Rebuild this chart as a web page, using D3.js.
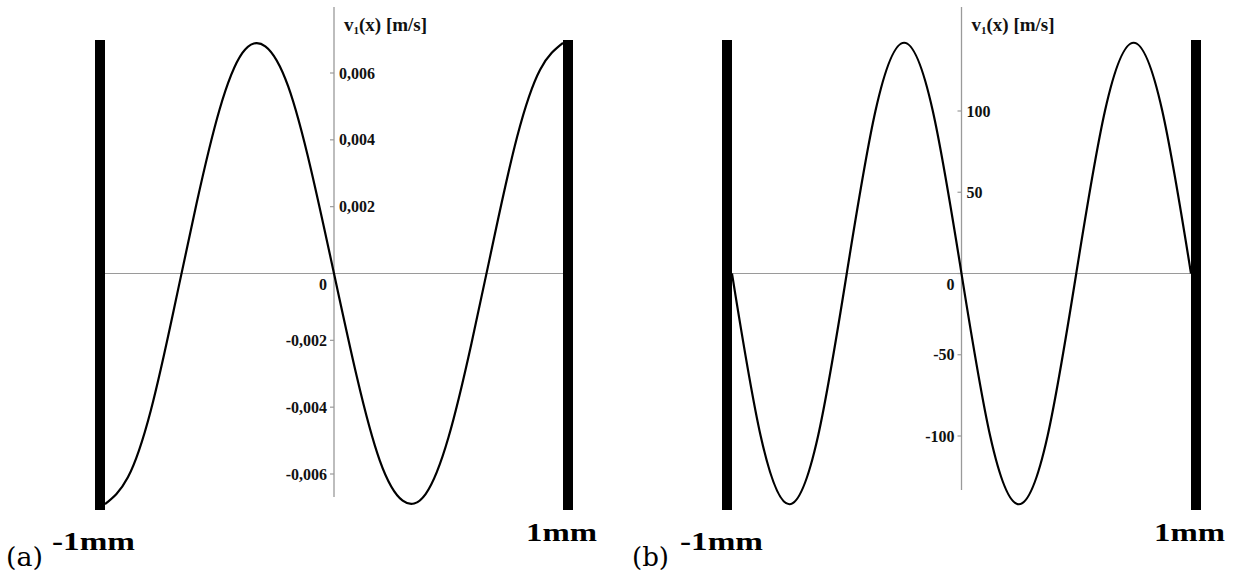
<!DOCTYPE html>
<html>
<head>
<meta charset="utf-8">
<script src="https://cdn.jsdelivr.net/npm/d3@7/dist/d3.min.js"></script>
<style>
  html, body { margin: 0; padding: 0; background: #fff; }
  svg { display: block; }
</style>
</head>
<body>
<svg id="chart" width="1256" height="580"></svg>
<script>
// Velocity profile v1(x) across the gap between the two walls (x in mm)

// Panel (a): low-frequency mode
const xA = [-1, -0.9, -0.8, -0.7, -0.6, -0.5, -0.4, -0.3, -0.2, -0.1, 0,
            0.1, 0.2, 0.3, 0.4, 0.5, 0.6, 0.7, 0.8, 0.9, 1];
const vA = [-0.0069, -0.0061, -0.0041, -0.0011, 0.0021, 0.0049, 0.0066, 0.0068, 0.0056, 0.0031, 0,
            -0.0031, -0.0056, -0.0068, -0.0066, -0.0049, -0.0021, 0.0011, 0.0041, 0.0061, 0.0069];
const ticksA = [-0.006, -0.004, -0.002, 0, 0.002, 0.004, 0.006];

// Panel (b): higher mode
const xB = [-1, -0.875, -0.75, -0.625, -0.5, -0.375, -0.25, -0.125, 0,
            0.125, 0.25, 0.375, 0.5, 0.625, 0.75, 0.875, 1];
const vB = [0, -100, -142, -100, 0, 100, 142, 100, 0,
            -100, -142, -100, 0, 100, 142, 100, 0];
const ticksB = [-100, -50, 0, 50, 100];

const wallLabels = ["-1mm", "1mm"];
const axisTitle = { main: "v", sub: "1", rest: "(x) [m/s]" };

const comma = d3.formatLocale({ decimal: ",", thousands: ".", grouping: [3], currency: ["", ""], minus: "-" });

const svg = d3.select("#chart");
const serif = "'Liberation Serif', 'Times New Roman', serif";

const panels = [
  { tag: "(a)", tagX: 6, xs: xA, vs: vA, ticks: ticksA,
    xRange: [105, 563], yDomain: [-0.006, 0.006], yRange: [474, 73],
    fmt: comma.format(".3f"), axisBottom: 497,
    wallText: [{ x: 52, y: 550, w: 83 }, { x: 526, y: 541, w: 71 }] },
  { tag: "(b)", tagX: 632, xs: xB, vs: vB, ticks: ticksB,
    xRange: [732, 1191], yDomain: [-100, 100], yRange: [436, 111],
    fmt: comma.format("d"), axisBottom: 490,
    wallText: [{ x: 680, y: 550, w: 83 }, { x: 1154, y: 541, w: 71 }] }
];

panels.forEach(p => {
  const x = d3.scaleLinear().domain([-1, 1]).range(p.xRange);
  const y = d3.scaleLinear().domain(p.yDomain).range(p.yRange);
  const g = svg.append("g");
  const ax = x(0);
  const wallW = 10;

  // horizontal zero line between the walls
  g.append("line")
    .attr("x1", x(-1)).attr("x2", x(1))
    .attr("y1", y(0)).attr("y2", y(0))
    .attr("stroke", "#9a9a9a").attr("stroke-width", 1);

  // vertical value axis
  g.append("line")
    .attr("x1", ax).attr("x2", ax)
    .attr("y1", 7).attr("y2", p.axisBottom)
    .attr("stroke", "#9a9a9a").attr("stroke-width", 1.3);

  // tick marks
  g.selectAll("line.tick").data(p.ticks).join("line")
    .attr("class", "tick")
    .attr("x1", ax - 4).attr("x2", ax)
    .attr("y1", d => y(d)).attr("y2", d => y(d))
    .attr("stroke", "#9a9a9a").attr("stroke-width", 1.2);

  // tick labels: positives right of the axis, zero and negatives left
  g.selectAll("text.tl").data(p.ticks).join("text")
    .attr("class", "tl")
    .attr("x", d => d > 0 ? ax + 5 : ax - 7)
    .attr("y", d => d === 0 ? y(d) + 11 : y(d))
    .attr("dy", "0.35em")
    .attr("text-anchor", d => d > 0 ? "start" : "end")
    .attr("font-family", serif).attr("font-weight", "bold").attr("font-size", 16)
    .attr("fill", "#111")
    .text(d => d === 0 ? "0" : p.fmt(d));

  // axis title
  const t = g.append("text")
    .attr("x", ax + 10).attr("y", 31)
    .attr("font-family", serif).attr("font-weight", "bold").attr("font-size", 19)
    .attr("fill", "#111");
  t.append("tspan").text(axisTitle.main);
  t.append("tspan").attr("font-size", 11).attr("dy", 3).text(axisTitle.sub);
  t.append("tspan").attr("dy", -3).text(axisTitle.rest);

  // walls just outside x = -1 mm and x = 1 mm
  g.selectAll("rect.wall").data([-1, 1]).join("rect")
    .attr("class", "wall")
    .attr("x", d => d < 0 ? x(d) - wallW : x(d)).attr("width", wallW)
    .attr("y", 40).attr("height", 470)
    .attr("fill", "#000");

  // velocity curve
  const line = d3.line()
    .x((d, i) => x(p.xs[i]))
    .y(d => y(d))
    .curve(d3.curveNatural);
  g.append("path")
    .attr("d", line(p.vs))
    .attr("fill", "none").attr("stroke", "#000")
    .attr("stroke-width", 2.2);

  // wall labels
  g.selectAll("text.wl").data(p.wallText).join("text")
    .attr("class", "wl")
    .attr("x", d => d.x).attr("y", d => d.y)
    .attr("textLength", d => d.w).attr("lengthAdjust", "spacingAndGlyphs")
    .attr("font-family", serif).attr("font-weight", "bold").attr("font-size", 25)
    .attr("fill", "#000")
    .text((d, i) => wallLabels[i]);

  // panel tag
  g.append("text")
    .attr("x", p.tagX).attr("y", 566)
    .attr("textLength", 37).attr("lengthAdjust", "spacingAndGlyphs")
    .attr("font-family", "'DejaVu Serif', serif").attr("font-size", 26)
    .attr("fill", "#000")
    .text(p.tag);
});
</script>
</body>
</html>
